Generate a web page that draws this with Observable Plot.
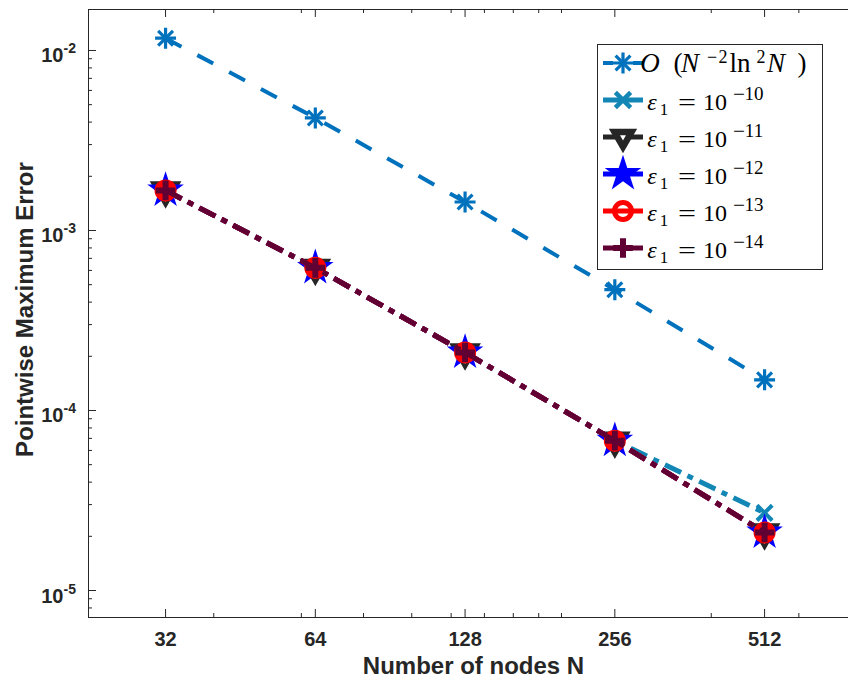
<!DOCTYPE html>
<html><head><meta charset="utf-8">
<script src="https://cdn.jsdelivr.net/npm/d3@7"></script>
<script src="https://cdn.jsdelivr.net/npm/@observablehq/plot@0.6"></script>
<style>body{margin:0;background:#fff;} svg{overflow:hidden;}</style>
</head><body><div id="chart"></div>
<script>
// ---- data ----
const N = [32, 64, 128, 256, 512];
const rateRef = [1.17e-2, 4.22e-3, 1.44e-3, 4.69e-4, 1.48e-4];   // O(N^-2 ln^2 N)
const err10 = [1.67e-3, 6.2e-4, 2.1e-4, 6.8e-5, 2.7e-5];
const err11 = [1.67e-3, 6.2e-4, 2.1e-4, 6.8e-5, 2.1e-5];
const err12 = [1.67e-3, 6.2e-4, 2.1e-4, 6.8e-5, 2.1e-5];
const err13 = [1.67e-3, 6.2e-4, 2.1e-4, 6.8e-5, 2.1e-5];
const err14 = [1.67e-3, 6.2e-4, 2.1e-4, 6.8e-5, 2.1e-5];
const epsExps = ["10", "11", "12", "13", "14"];

const xTicks = [32, 64, 128, 256, 512];
const xTickLabels = ["32", "64", "128", "256", "512"];
const xMinor = [40, 60, 80, 100, 120, 140, 160, 180, 200, 400, 600];
const yTicks = [1e-2, 1e-3, 1e-4, 1e-5];
const yTickExp = ["-2", "-3", "-4", "-5"];
const yMinor = [8e-6, 9e-6,
  2e-5, 3e-5, 4e-5, 5e-5, 6e-5, 7e-5, 8e-5, 9e-5,
  2e-4, 3e-4, 4e-4, 5e-4, 6e-4, 7e-4, 8e-4, 9e-4,
  2e-3, 3e-3, 4e-3, 5e-3, 6e-3, 7e-3, 8e-3, 9e-3];
const xDomain = [22.4, 755];
const yDomain = [7.08e-6, 0.01689];
const xLabel = "Number of nodes N";
const yLabel = "Pointwise Maximum Error";

// ---- styles ----
const INK = "#262626";
const C_REF = "#0072BD", C10 = "#1287B5", C11 = "#262626", C12 = "#0000FF", C13 = "#FF0000", C14 = "#600033";
const DASH = "18,18", DASHDOT = "18,7,6,7";
const sans = "'Liberation Sans', Arial, Helvetica, sans-serif";
const serif = "'Liberation Serif', 'Times New Roman', serif";

const rows = vals => N.map((n, i) => ({n, v: vals[i]}));
const W = 848, H = 680, mL = 88, mT = 9, mB = 63, mR = 0;
const fw = W - mL - mR, fh = H - mT - mB;

const lineOpts = (stroke, width, dash) => ({x: "n", y: "v", stroke, strokeWidth: width, strokeDasharray: dash, strokeLinecap: "butt", strokeLinejoin: "miter"});

const chart = Plot.plot({
  width: W, height: H,
  marginLeft: mL, marginTop: mT, marginBottom: mB, marginRight: mR,
  style: {background: "white", fontFamily: sans},
  x: {type: "log", domain: xDomain, axis: null},
  y: {type: "log", domain: yDomain, axis: null},
  marks: [
    // frame (left, top, bottom)
    Plot.ruleY([yDomain[0]], {stroke: INK, strokeWidth: 1}),
    Plot.ruleY([yDomain[1]], {stroke: INK, strokeWidth: 1}),
    Plot.ruleX([xDomain[0]], {stroke: INK, strokeWidth: 1}),
    // inward ticks
    Plot.tickX(xTicks, {x: d => d, insetTop: fh - 8, stroke: INK}),
    Plot.tickX(xTicks, {x: d => d, insetBottom: fh - 8, stroke: INK}),
    Plot.tickX(xMinor, {x: d => d, insetTop: fh - 4, stroke: INK}),
    Plot.tickX(xMinor, {x: d => d, insetBottom: fh - 4, stroke: INK}),
    Plot.tickY(yTicks, {y: d => d, insetRight: fw - 8, stroke: INK}),
    Plot.tickY(yMinor, {y: d => d, insetRight: fw - 4, stroke: INK}),
    // tick labels
    Plot.text(xTicks, {x: d => d, text: (d, i) => xTickLabels[i], frameAnchor: "bottom", dy: 28, lineAnchor: "bottom",
      textAnchor: "middle", fontSize: 20, fontWeight: "bold", fill: INK, fontFamily: sans}),
    Plot.text(yTicks, {y: d => d, text: () => "10", frameAnchor: "left", dx: -25, dy: 12, textAnchor: "end", lineAnchor: "bottom",
      fontSize: 20, fontWeight: "bold", fill: INK, fontFamily: sans}),
    Plot.text(yTicks, {y: d => d, text: (d, i) => yTickExp[i], frameAnchor: "left", dx: -25, dy: 3, textAnchor: "start", lineAnchor: "bottom",
      fontSize: 14, fontWeight: "bold", fill: INK, fontFamily: sans}),
    // axis titles
    Plot.text([xLabel], {frameAnchor: "bottom", dx: 5, dy: 56, lineAnchor: "bottom", textAnchor: "middle",
      fontSize: 24, fontWeight: "bold", fill: INK, fontFamily: sans}),
    Plot.text([yLabel], {frameAnchor: "left", dx: -56, dy: -4, rotate: -90, lineAnchor: "bottom", textAnchor: "middle",
      fontSize: 24, fontWeight: "bold", fill: INK, fontFamily: sans}),
    // reference rate
    Plot.line(rows(rateRef), lineOpts(C_REF, 4, DASH)),
    Plot.dot(rows(rateRef), {x: "n", y: "v", symbol: "plus", r: 6.8, stroke: C_REF, strokeWidth: 3.2}),
    Plot.dot(rows(rateRef), {x: "n", y: "v", symbol: "times", r: 6.8, stroke: C_REF, strokeWidth: 3.2}),
    // eps = 1e-10
    Plot.line(rows(err10), lineOpts(C10, 5, DASHDOT)),
    Plot.dot(rows(err10), {x: "n", y: "v", symbol: "times", r: 7, stroke: C10, strokeWidth: 4}),
    // eps = 1e-11
    Plot.line(rows(err11), lineOpts(C11, 5, DASHDOT)),
    Plot.dot(rows(err11), {x: "n", y: "v", symbol: "triangle", rotate: 180, r: 9.5, fill: "none", stroke: C11, strokeWidth: 3.5}),
    // eps = 1e-12
    Plot.line(rows(err12), lineOpts(C12, 5, DASHDOT)),
    Plot.dot(rows(err12), {x: "n", y: "v", symbol: "star", r: 11.5, fill: C12, stroke: "none"}),
    // eps = 1e-13
    Plot.line(rows(err13), lineOpts(C13, 5, DASHDOT)),
    Plot.dot(rows(err13), {x: "n", y: "v", symbol: "circle", r: 11, fill: C13, stroke: "none"}),
    // eps = 1e-14
    Plot.line(rows(err14), lineOpts(C14, 5, DASHDOT)),
    Plot.dot(rows(err14), {x: "n", y: "v", symbol: "plus", r: 6.4, stroke: C14, strokeWidth: 6})
  ]
});
document.getElementById("chart").appendChild(chart);

// ---- legend (inside the axes, top right) ----
const svg = d3.select(chart);
const lg = svg.append("g").attr("class", "legend");
lg.append("rect").attr("x", 597.5).attr("y", 44.5).attr("width", 225).attr("height", 225)
  .attr("fill", "white").attr("stroke", INK).attr("stroke-width", 1);
const rowY = [63, 100, 137, 174, 211, 248];
const lx1 = 603, lx2 = 643, mx = 623;
const sym = (type, r) => d3.symbol().type(type).size(Math.PI * r * r)();
const legendItems = [
  {color: C_REF, w: 4, dash: "10,20", marks: [[d3.symbolPlus, 6.8, "stroke", 3.2, 0, null], [d3.symbolTimes, 6.8, "stroke", 3.2, 0, null]]},
  {color: C10, w: 5, dash: null, marks: [[d3.symbolTimes, 7, "stroke", 4.5, 0, null]]},
  {color: C11, w: 5, dash: null, marks: [[d3.symbolTriangle, 10.5, "fill", 0, 180, null], [d3.symbolTriangle, 2.2, "fill", 0, 180, "white"]]},
  {color: C12, w: 5, dash: null, marks: [[d3.symbolStar, 11.5, "fill", 0, 0, null]]},
  {color: C13, w: 5, dash: null, marks: [[d3.symbolCircle, 8.5, "stroke", 5, 0, null]]},
  {color: C14, w: 5, dash: null, marks: [[d3.symbolPlus, 6.4, "stroke", 6, 0, null]]}
];
legendItems.forEach((it, i) => {
  const cy = rowY[i];
  lg.append("line").attr("x1", lx1).attr("x2", lx2).attr("y1", cy).attr("y2", cy)
    .attr("stroke", it.color).attr("stroke-width", it.w).attr("stroke-dasharray", it.dash);
  it.marks.forEach(([type, r, mode, sw, rot, col]) => {
    const c = col || it.color;
    const p = lg.append("path").attr("d", sym(type, r)).attr("transform", `translate(${mx},${cy}) rotate(${rot})`);
    if (mode === "fill") p.attr("fill", c).attr("stroke", "none");
    else p.attr("fill", "none").attr("stroke", c).attr("stroke-width", sw);
  });
});
// legend label with absolutely placed tspans (no overlap between pieces)
const label = (parts) => {
  const t = lg.append("text").attr("font-family", serif).attr("fill", "black");
  parts.forEach(p => {
    const s = t.append("tspan").attr("x", p.x).attr("y", p.y).attr("font-size", p.size).text(p.t);
    if (p.it) s.attr("font-style", "italic");
    if (p.len) s.attr("textLength", p.len).attr("lengthAdjust", "spacingAndGlyphs");
  });
  return t;
};
// row 1: O(N^{-2} ln^2 N)
{
  const b = rowY[0] + 9, s = b - 9;
  label([
    {x: 650, y: b, t: "O", size: 27, it: true},
    {x: 678, y: b, t: "(", size: 27},
    {x: 690, y: b, t: "N", size: 27, it: true},
    {x: 712, y: s, t: "\u2212", size: 18},
    {x: 723, y: s, t: "2", size: 18},
    {x: 740, y: b, t: "ln", size: 27},
    {x: 761, y: s, t: "2", size: 18},
    {x: 776, y: b, t: "N", size: 27, it: true},
    {x: 802, y: b, t: ")", size: 27}
  ]);
}
// rows 2-6: eps_1 = 10^{-k}
epsExps.forEach((e, k) => {
  const b = rowY[k + 1] + 10, s = b - 10;
  label([
    {x: 652, y: b, t: "\u03b5", size: 24, it: true},
    {x: 664, y: b + 5, t: "1", size: 17},
    {x: 687, y: b, t: "=", size: 24, len: 18},
    {x: 715, y: b, t: "10", size: 24},
    {x: 739, y: s, t: "\u2212", size: 18, len: 12},
    {x: 754, y: s, t: e, size: 19}
  ]);
});
</script>
</body></html>
